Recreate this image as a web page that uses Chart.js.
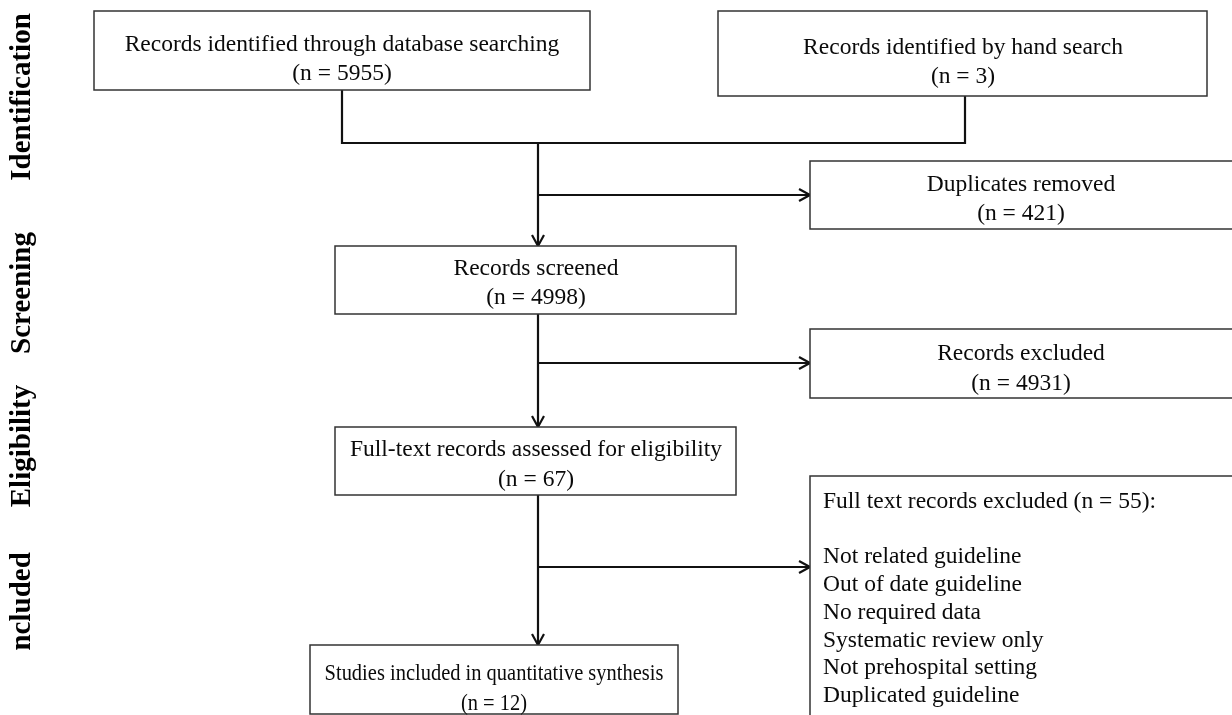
<!DOCTYPE html>
<html>
<head>
<meta charset="utf-8">
<script src="https://cdn.jsdelivr.net/npm/chart.js@4.4.1/dist/chart.umd.min.js"></script>
<style>
  html, body { margin: 0; padding: 0; background: #fff; }
  #flow { display: block; }
</style>
</head>
<body>
<canvas id="flow" width="1232" height="715"></canvas>
<script>
// PRISMA flow: stage names, box titles and counts
var stages = ['Identification', 'Screening', 'Eligibility', 'Included'];
var boxTitles = [
  'Records identified through database searching',
  'Records identified by hand search',
  'Duplicates removed',
  'Records screened',
  'Records excluded',
  'Full-text records assessed for eligibility',
  'Full text records excluded',
  'Studies included in quantitative synthesis'
];
var boxCounts = [5955, 3, 421, 4998, 4931, 67, 55, 12];
var exclusionReasons = [
  'Not related guideline',
  'Out of date guideline',
  'No required data',
  'Systematic review only',
  'Not prehospital setting',
  'Duplicated guideline'
];

// layout, in diagram units (same as the 1232 x 715 page)
var boxLayout = [
  {x0: 94,  y0: 11,  x1: 590,  y1: 90,  tx: 342,  ty: [43, 72]},
  {x0: 718, y0: 11,  x1: 1207, y1: 96,  tx: 963,  ty: [46, 75]},
  {x0: 810, y0: 161, x1: 1233, y1: 229, tx: 1021, ty: [183, 212]},
  {x0: 335, y0: 246, x1: 736,  y1: 314, tx: 536,  ty: [267, 296]},
  {x0: 810, y0: 329, x1: 1233, y1: 398, tx: 1021, ty: [352, 382]},
  {x0: 335, y0: 427, x1: 736,  y1: 495, tx: 536,  ty: [448, 478]},
  {x0: 810, y0: 476, x1: 1240, y1: 760, tx: 823,  ty: [500], list: true},
  {x0: 310, y0: 645, x1: 678,  y1: 714, tx: 494,  ty: [672, 702], size: 24, squeeze: 0.853}
];
var stageLayout = [97, 293, 446, 607];
var connectors = [
  {pts: [[342, 90], [342, 143], [965, 143], [965, 96]], arrow: false},
  {pts: [[538, 143], [538, 246]], arrow: true},
  {pts: [[538, 195], [810, 195]], arrow: true},
  {pts: [[538, 314], [538, 427]], arrow: true},
  {pts: [[538, 363], [810, 363]], arrow: true},
  {pts: [[538, 495], [538, 645]], arrow: true},
  {pts: [[538, 567], [810, 567]], arrow: true}
];

var serif = '"Liberation Serif", "Times New Roman", serif';

var flowPlugin = {
  id: 'flowBoxes',
  afterDatasetsDraw: function(chart) {
    var ctx = chart.ctx;
    var sx = chart.scales.x, sy = chart.scales.y;
    var px = function(v) { return sx.getPixelForValue(v); };
    var py = function(v) { return sy.getPixelForValue(v); };

    // arrow heads
    ctx.save();
    ctx.strokeStyle = '#111';
    ctx.lineWidth = 2.2;
    connectors.forEach(function(c) {
      if (!c.arrow) return;
      var a = c.pts[c.pts.length - 2], b = c.pts[c.pts.length - 1];
      var ang = Math.atan2(py(b[1]) - py(a[1]), px(b[0]) - px(a[0]));
      var ex = px(b[0]), ey = py(b[1]);
      ctx.beginPath();
      ctx.moveTo(ex - 12.5 * Math.cos(ang - 0.5), ey - 12.5 * Math.sin(ang - 0.5));
      ctx.lineTo(ex, ey);
      ctx.lineTo(ex - 12.5 * Math.cos(ang + 0.5), ey - 12.5 * Math.sin(ang + 0.5));
      ctx.stroke();
    });
    ctx.restore();

    // boxes and their text
    var text = function(t, x, y, sq) {
      ctx.save();
      ctx.translate(x, y);
      ctx.scale(sq || 1, 1);
      ctx.fillText(t, 0, 0);
      ctx.restore();
    };
    ctx.save();
    ctx.textBaseline = 'middle';
    boxLayout.forEach(function(b, i) {
      var x0 = px(b.x0), y0 = py(b.y0), x1 = px(b.x1), y1 = py(b.y1);
      ctx.fillStyle = '#fff';
      ctx.fillRect(x0, y0, x1 - x0, y1 - y0);
      ctx.strokeStyle = '#333';
      ctx.lineWidth = 1.5;
      ctx.strokeRect(x0, y0, x1 - x0, y1 - y0);
      ctx.fillStyle = '#0a0a0a';
      ctx.font = (b.size || 23.5) + 'px ' + serif;
      if (b.list) {
        ctx.textAlign = 'left';
        var lines = [boxTitles[i] + ' (n = ' + boxCounts[i] + '):', ''].concat(exclusionReasons);
        lines.forEach(function(t, k) {
          text(t, px(b.tx), py(b.ty[0]) + 1.5 + k * 27.8);
        });
      } else {
        ctx.textAlign = 'center';
        text(boxTitles[i], px(b.tx), py(b.ty[0]) + 1.5, b.squeeze);
        text('(n = ' + boxCounts[i] + ')', px(b.tx), py(b.ty[1]) + 1.5, b.squeeze);
      }
    });
    ctx.restore();

    // stage labels down the left side
    ctx.save();
    ctx.beginPath();
    ctx.rect(0, 0, px(70), py(650));
    ctx.clip();
    ctx.font = 'bold 29px ' + serif;
    ctx.fillStyle = '#000';
    ctx.textAlign = 'center';
    ctx.textBaseline = 'middle';
    stages.forEach(function(s, i) {
      ctx.save();
      ctx.translate(px(23), py(stageLayout[i]));
      ctx.rotate(-Math.PI / 2);
      ctx.fillText(s, 0, 0);
      ctx.restore();
    });
    ctx.restore();
  }
};

var ctxF = document.getElementById('flow').getContext('2d');
var flowChart = new Chart(ctxF, {
  type: 'scatter',
  data: {
    datasets: connectors.map(function(c) {
      return {
        data: c.pts.map(function(p) { return {x: p[0], y: p[1]}; }),
        showLine: true,
        borderColor: '#111',
        borderWidth: 2.2,
        pointRadius: 0,
        tension: 0,
        fill: false
      };
    })
  },
  options: {
    responsive: false,
    animation: false,
    devicePixelRatio: 1,
    layout: {padding: 0},
    plugins: {legend: {display: false}, tooltip: {enabled: false}},
    scales: {
      x: {type: 'linear', display: false, min: 0, max: 1232},
      y: {type: 'linear', display: false, min: 0, max: 715, reverse: true}
    }
  },
  plugins: [flowPlugin]
});
</script>
</body>
</html>
